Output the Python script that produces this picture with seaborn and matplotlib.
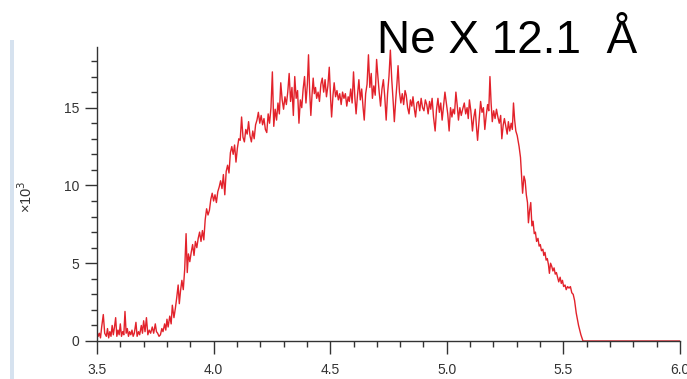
import numpy as np
import pandas as pd
import matplotlib
matplotlib.use("Agg")
import matplotlib.pyplot as plt
from matplotlib.ticker import MultipleLocator
from matplotlib.patches import Rectangle
import seaborn as sns

# wavelength axis (as labelled) and counts in units of 10^3
wavelength = [
    3.500, 3.505, 3.510, 3.515, 3.520, 3.527, 3.533, 3.540, 3.545, 3.550,
    3.555, 3.560, 3.565, 3.570, 3.575, 3.580, 3.585, 3.590, 3.595, 3.600,
    3.605, 3.610, 3.615, 3.620, 3.625, 3.630, 3.635, 3.640, 3.645, 3.650,
    3.655, 3.660, 3.667, 3.672, 3.678, 3.683, 3.690, 3.695, 3.700, 3.706,
    3.712, 3.718, 3.724, 3.730, 3.737, 3.743, 3.750, 3.755, 3.760, 3.766,
    3.772, 3.778, 3.783, 3.790, 3.795, 3.800, 3.805, 3.812, 3.818, 3.823,
    3.830, 3.836, 3.842, 3.848, 3.853, 3.858, 3.864, 3.870, 3.876, 3.882,
    3.887, 3.892, 3.898, 3.904, 3.910, 3.916, 3.922, 3.928, 3.934, 3.940,
    3.946, 3.952, 3.958, 3.964, 3.970, 3.976, 3.982, 3.988, 3.994, 4.000,
    4.006, 4.012, 4.018, 4.024, 4.030, 4.036, 4.042, 4.048, 4.054, 4.060,
    4.066, 4.072, 4.078, 4.084, 4.090, 4.096, 4.102, 4.108, 4.114, 4.120,
    4.126, 4.132, 4.138, 4.144, 4.150, 4.156, 4.162, 4.168, 4.174, 4.180,
    4.186, 4.192, 4.198, 4.204, 4.210, 4.216, 4.222, 4.228, 4.234, 4.240,
    4.246, 4.252, 4.258, 4.264, 4.270, 4.276, 4.282, 4.288, 4.294, 4.300,
    4.306, 4.312, 4.318, 4.324, 4.330, 4.336, 4.342, 4.348, 4.354, 4.360,
    4.366, 4.372, 4.378, 4.384, 4.390, 4.396, 4.402, 4.407, 4.412, 4.417,
    4.422, 4.427, 4.432, 4.437, 4.442, 4.448, 4.454, 4.460, 4.466, 4.472,
    4.478, 4.484, 4.490, 4.496, 4.502, 4.506, 4.512, 4.517, 4.523, 4.529,
    4.535, 4.541, 4.547, 4.553, 4.559, 4.565, 4.571, 4.577, 4.582, 4.588,
    4.594, 4.600, 4.606, 4.611, 4.617, 4.623, 4.629, 4.635, 4.641, 4.646,
    4.652, 4.658, 4.664, 4.670, 4.676, 4.681, 4.687, 4.693, 4.699, 4.705,
    4.710, 4.716, 4.722, 4.728, 4.734, 4.740, 4.746, 4.752, 4.758, 4.764,
    4.770, 4.775, 4.781, 4.786, 4.791, 4.797, 4.803, 4.809, 4.815, 4.821,
    4.826, 4.832, 4.838, 4.844, 4.850, 4.855, 4.861, 4.866, 4.872, 4.878,
    4.884, 4.890, 4.896, 4.902, 4.908, 4.914, 4.920, 4.926, 4.931, 4.937,
    4.943, 4.950, 4.956, 4.962, 4.968, 4.974, 4.980, 4.986, 4.992, 4.998,
    5.004, 5.010, 5.016, 5.022, 5.027, 5.033, 5.039, 5.045, 5.050, 5.056,
    5.062, 5.068, 5.075, 5.081, 5.087, 5.092, 5.097, 5.103, 5.110, 5.116,
    5.122, 5.128, 5.132, 5.138, 5.145, 5.151, 5.157, 5.163, 5.169, 5.175,
    5.180, 5.185, 5.190, 5.195, 5.201, 5.207, 5.213, 5.219, 5.225, 5.231,
    5.236, 5.242, 5.247, 5.253, 5.259, 5.264, 5.270, 5.276, 5.281, 5.286,
    5.291, 5.296, 5.302, 5.310, 5.316, 5.320, 5.325, 5.331, 5.336, 5.341,
    5.346, 5.350, 5.355, 5.360, 5.365, 5.370, 5.375, 5.380, 5.385, 5.391,
    5.396, 5.401, 5.406, 5.412, 5.416, 5.421, 5.426, 5.431, 5.436, 5.440,
    5.445, 5.450, 5.455, 5.460, 5.465, 5.470, 5.475, 5.480, 5.486, 5.491,
    5.496, 5.501, 5.507, 5.512, 5.518, 5.524, 5.530, 5.536, 5.542, 5.548,
    5.555, 5.565, 5.575, 5.584, 6.000,
]
counts_k = [
    0.6, 0.3, 0.5, 0.2, 0.9, 1.7, 0.5, 0.3, 0.8, 0.2,
    0.6, 0.3, 1.0, 0.4, 0.9, 1.5, 0.3, 0.7, 0.4, 1.1,
    0.3, 0.6, 0.4, 1.9, 0.5, 0.8, 0.3, 0.6, 0.4, 0.7,
    0.3, 0.5, 1.2, 0.3, 0.6, 0.4, 1.0, 0.5, 1.3, 0.6,
    1.5, 0.4, 0.7, 0.5, 0.9, 0.5, 1.1, 0.6, 0.5, 0.3,
    0.4, 0.8, 0.6, 1.1, 0.7, 1.4, 0.9, 1.6, 1.1, 2.3,
    1.5, 2.1, 2.8, 3.6, 2.4, 3.2, 3.9, 3.3, 4.6, 6.9,
    4.4, 5.6, 5.1, 5.7, 6.2, 5.5, 6.4, 6.0, 6.6, 7.0,
    6.4, 7.1, 6.5, 7.8, 8.5, 8.1, 8.4, 9.1, 9.5, 9.0,
    9.4, 8.9, 9.6, 9.9, 10.3, 9.8, 10.7, 9.4, 10.9, 11.3,
    10.8, 12.1, 12.5, 12.0, 12.6, 11.5, 12.4, 13.0, 12.9, 14.4,
    13.1, 12.8, 13.6, 13.3, 14.1, 13.2, 12.8, 13.5, 13.0, 13.9,
    14.2, 14.7, 14.0, 14.5, 13.9, 14.3, 13.6, 13.4, 14.6, 14.0,
    15.0, 17.3, 13.8, 14.9, 14.2, 15.3, 14.6, 16.6, 15.5, 14.9,
    15.7, 15.2, 16.0, 17.2, 15.4, 16.3, 14.5, 17.0, 15.6, 16.1,
    14.0, 15.5, 15.0, 16.2, 17.0, 15.3, 16.5, 18.4, 16.0, 14.5,
    15.8, 16.9, 15.9, 16.3, 15.6, 16.0, 15.4, 16.5, 16.9, 16.0,
    16.8, 15.7, 16.4, 17.6, 15.5, 14.4, 15.8, 16.6, 15.7, 16.1,
    15.5, 15.9, 15.2, 16.0, 15.6, 15.9, 15.1, 15.7, 15.4, 16.2,
    15.3, 17.3, 15.6, 14.6, 15.8, 16.8, 15.5, 16.2, 15.0, 14.2,
    15.9, 16.5, 18.4, 16.3, 17.2, 15.6, 16.4, 15.8, 18.1, 16.9,
    16.0, 15.1, 16.2, 16.8, 15.7, 14.2, 15.9, 17.0, 18.7, 16.8,
    15.4, 14.1, 15.5, 16.5, 17.7, 16.0, 15.3, 15.9, 15.2, 16.1,
    15.8, 15.0, 14.6, 15.5, 15.1, 15.7, 14.9, 14.4, 15.3, 15.4,
    14.8, 15.6, 15.0, 14.8, 15.5, 15.2, 14.6, 15.4, 14.9, 15.6,
    14.4, 13.5, 14.9, 15.6, 14.7, 15.3, 14.2, 15.1, 16.0, 15.3,
    14.6, 13.5, 15.0, 14.4, 14.9, 14.6, 16.0, 15.1, 14.2, 15.0,
    14.5, 14.9, 15.3, 14.6, 15.0, 14.3, 15.5, 14.8, 13.5, 14.4,
    14.9, 13.6, 12.9, 14.1, 15.4, 14.7, 15.0, 13.6, 14.5, 15.2,
    14.8, 17.0, 15.3, 14.1, 14.8, 14.3, 14.9, 14.4, 14.0, 14.5,
    13.0, 13.9, 14.3, 13.8, 13.3, 14.1, 13.5, 14.0, 13.6, 15.3,
    14.2, 13.5, 13.2, 12.5, 11.8, 10.8, 9.5, 10.6, 10.3, 9.4,
    8.9, 7.6, 8.4, 8.9, 7.4, 7.7, 6.9, 7.0, 6.4, 6.6,
    6.1, 6.2, 5.8, 5.9, 5.5, 5.7, 5.2, 5.3, 4.9, 4.35,
    5.0, 4.8, 4.5, 4.7, 4.3, 4.4, 4.1, 3.8, 4.1, 3.7,
    3.9, 3.5, 3.6, 3.3, 3.5, 3.4, 3.5, 3.1, 3.0, 2.6,
    1.8, 1.0, 0.4, 0.0, 0.0,
]

title_text = "Ne X 12.1  Å"
x_ticks = [3.5, 4.0, 4.5, 5.0, 5.5, 6.0]
y_ticks = [0, 5, 10, 15]

sns.set_theme(style="ticks")
plt.rcParams['font.family'] = ['Liberation Sans', 'DejaVu Sans']

df = pd.DataFrame({"wavelength": wavelength, "counts": counts_k})

fig = plt.figure(figsize=(6.87, 3.79), dpi=100)
ax = fig.add_axes([97 / 687, 1 - 341 / 379, (680 - 97) / 687, (341 - 47) / 379])

sns.lineplot(data=df, x="wavelength", y="counts", ax=ax, color="#e2222b",
             linewidth=1.0, errorbar=None, sort=False)

ax.set_xlim(3.5, 6.0)
ax.set_ylim(0, 18.9)
ax.set_xticks(x_ticks)
ax.set_yticks(y_ticks)
ax.set_xticklabels([f"{t:.1f}" for t in x_ticks])
ax.xaxis.set_minor_locator(MultipleLocator(0.1))
ax.yaxis.set_minor_locator(MultipleLocator(1))
ax.set_xlabel("")
ax.set_ylabel("")

for side in ["top", "right"]:
    ax.spines[side].set_visible(False)
for side in ["left", "bottom"]:
    ax.spines[side].set_color("#333333")
    ax.spines[side].set_linewidth(1.0)

ax.tick_params(axis="both", which="major", length=9, width=1.0, color="#333333",
               labelsize=10, labelcolor="#333333")
ax.tick_params(axis="both", which="minor", length=4.5, width=1.0, color="#333333")
ax.tick_params(axis="x", which="major", pad=7)
ax.tick_params(axis="y", which="major", pad=4)

# scale marker for the y axis
fig.text(26 / 687, 1 - 197 / 379, "×10$^{3}$", rotation=90, ha="center", va="center",
         fontsize=10.5, color="#333333")

# big title
fig.text(377 / 687, 1 - 53 / 379, title_text, ha="left", va="baseline",
         fontsize=33, color="black")

# faint blue bar at the left edge
fig.add_artist(Rectangle((10 / 687, 0), 4 / 687, 1 - 40 / 379,
                         transform=fig.transFigure, color="#d6e2ef", lw=0))

fig.savefig("out.png", dpi=100)
